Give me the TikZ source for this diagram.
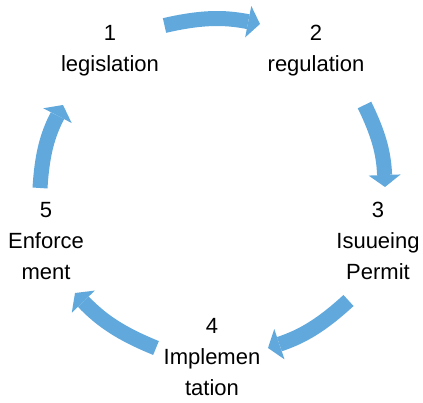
\documentclass[tikz,border=0pt]{standalone}
\usepackage{fontspec}
\setmainfont{Liberation Sans}
\usetikzlibrary{arrows.meta}
\definecolor{cycleblue}{RGB}{97,169,220}

\begin{document}
\begin{tikzpicture}[x=1pt,y=1pt,
  stage/.style={align=center,inner sep=0pt,font=\fontsize{22}{31}\selectfont},
  cyclearrow/.style={draw=cycleblue,line width=15pt,
    -{Triangle[width=32pt,length=12pt,line width=0pt]},bend left=12}]
\useasboundingbox (0,0) rectangle (423,-403);

\node[stage] (legis) at (110,-50.5) {1\\legislation};
\node[stage] (regul) at (316,-50.5) {2\\regulation};
\node[stage] (permit) at (378,-241) {3\\Isuueing\\Permit};
\node[stage] (implem) at (212,-357) {4\\Implemen\\tation};
\node[stage] (enforce) at (46,-241) {5\\Enforce\\ment};

\coordinate (legis-out) at (164.5,-25.5);
\coordinate (regul-in) at (260,-24);
\coordinate (regul-out) at (364.5,-105);
\coordinate (permit-in) at (385,-187);
\coordinate (permit-out) at (348.5,-300.5);
\coordinate (implem-in) at (268,-348);
\coordinate (implem-out) at (156,-348);
\coordinate (enforce-in) at (75,-293);
\coordinate (enforce-out) at (40,-188);
\coordinate (legis-in) at (63,-105);

\draw[cyclearrow] (legis-out) to (regul-in);
\draw[cyclearrow] (regul-out) to (permit-in);
\draw[cyclearrow] (permit-out) to (implem-in);
\draw[cyclearrow] (implem-out) to (enforce-in);
\draw[cyclearrow] (enforce-out) to (legis-in);
\end{tikzpicture}
\end{document}
